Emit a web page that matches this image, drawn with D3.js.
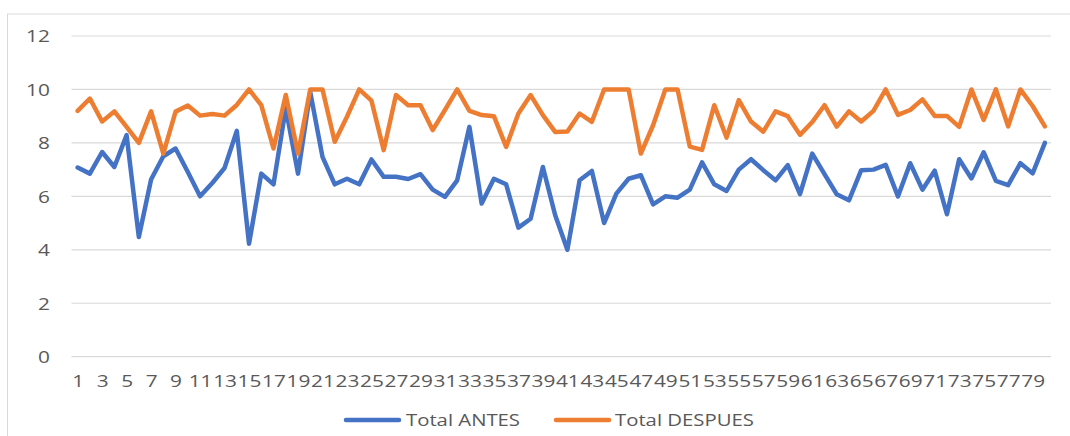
<!DOCTYPE html>
<html>
<head>
<meta charset="utf-8">
<script src="https://cdn.jsdelivr.net/npm/d3@7"></script>
<style>
  body { margin: 0; background: #fff; }
  text { font-family: "Open Sans", sans-serif; fill: #595959; }
</style>
</head>
<body>
<div class="chart"></div>
<script>
// participants 1..80, score before and after
var categories = d3.range(1, 81);

var totalAntes = [
  7.08, 6.85, 7.66, 7.1, 8.29, 4.48, 6.63, 7.5, 7.79, 6.91,
  6.0, 6.5, 7.06, 8.45, 4.23, 6.85, 6.45, 9.3, 6.85, 9.9,
  7.48, 6.45, 6.66, 6.45, 7.38, 6.73, 6.73, 6.65, 6.83, 6.25,
  5.98, 6.6, 8.6, 5.73, 6.66, 6.45, 4.83, 5.16, 7.1, 5.3,
  4.0, 6.6, 6.95, 5.0, 6.1, 6.66, 6.79, 5.7, 6.0, 5.95,
  6.25, 7.27, 6.45, 6.2, 7.0, 7.39, 6.98, 6.6, 7.17, 6.08,
  7.6, 6.83, 6.08, 5.85, 6.98, 7.0, 7.18, 6.0, 7.24, 6.25,
  6.96, 5.33, 7.39, 6.67, 7.65, 6.58, 6.42, 7.24, 6.86, 8.0
];

var totalDespues = [
  9.2, 9.66, 8.8, 9.18, 8.6, 8.0, 9.18, 7.6, 9.17, 9.4,
  9.02, 9.08, 9.02, 9.42, 10, 9.41, 7.79, 9.79, 7.6, 10,
  10, 8.04, 8.98, 10, 9.58, 7.73, 9.79, 9.41, 9.41, 8.48,
  9.23, 10, 9.2, 9.04, 9.0, 7.85, 9.1, 9.79, 9.04, 8.41,
  8.43, 9.1, 8.79, 10, 10, 10, 7.6, 8.66, 10, 10,
  7.86, 7.74, 9.41, 8.2, 9.6, 8.8, 8.42, 9.18, 9.0, 8.3,
  8.78, 9.41, 8.61, 9.18, 8.8, 9.2, 10, 9.05, 9.23, 9.63,
  9.01, 9.01, 8.6, 10, 8.86, 10, 8.62, 10, 9.38, 8.62
];

var yTicks = [0, 2, 4, 6, 8, 10, 12];
var xTickLabels = categories.filter(function(d) { return d % 2 === 1; });

var series = [
  {name: "Total ANTES", values: totalAntes, color: "#4472C4"},
  {name: "Total DESPUES", values: totalDespues, color: "#ED7D31"}
];

var W = 1070, H = 436;
var plot = {left: 71.5, right: 1051, top: 36, bottom: 356.7};
var stretch = 1.27; // text in the picture is drawn wide

var svg = d3.select(".chart")
            .append("svg")
            .attr("width", W)
            .attr("height", H);

// chart area border
svg.append("rect")
   .attr("x", 7.5)
   .attr("y", 14)
   .attr("width", W + 10)
   .attr("height", H)
   .attr("fill", "none")
   .attr("stroke", "#d9d9d9")
   .attr("stroke-width", 1);

var x = d3.scalePoint()
          .domain(categories)
          .range([plot.left, plot.right])
          .padding(0.5);

var y = d3.scaleLinear()
          .domain([0, 12])
          .range([plot.bottom, plot.top]);

// gridlines
svg.append("g")
   .selectAll("line")
   .data(yTicks)
   .enter()
   .append("line")
   .attr("x1", plot.left)
   .attr("x2", plot.right)
   .attr("y1", function(d) { return y(d); })
   .attr("y2", function(d) { return y(d); })
   .attr("stroke", "#d9d9d9")
   .attr("stroke-width", 1.2);

// y axis
var yAxis = svg.append("g")
   .attr("transform", "translate(" + plot.left + ",0)")
   .call(d3.axisLeft(y).tickValues(yTicks).tickSize(0));
yAxis.select(".domain").remove();
yAxis.selectAll("text")
     .attr("x", -17)
     .attr("dy", "0.36em")
     .attr("transform", "scale(" + stretch + ",1)")
     .style("font-size", "16.4px")
     .style("font-family", "Open Sans, sans-serif")
     .style("fill", "#595959");

// x axis
var xAxis = svg.append("g")
   .attr("transform", "translate(0," + plot.bottom + ")")
   .call(d3.axisBottom(x).tickValues(xTickLabels).tickSize(0));
xAxis.select(".domain").remove();
xAxis.selectAll("text")
     .attr("y", 30)
     .attr("dy", 0)
     .attr("transform", "scale(" + stretch + ",1)")
     .style("font-size", "16.4px")
     .style("font-family", "Open Sans, sans-serif")
     .style("fill", "#595959");

// lines
var line = d3.line()
             .x(function(d, i) { return x(categories[i]); })
             .y(function(d) { return y(d); });

svg.append("g")
   .selectAll("path")
   .data(series)
   .enter()
   .append("path")
   .attr("d", function(d) { return line(d.values); })
   .attr("fill", "none")
   .attr("stroke", function(d) { return d.color; })
   .attr("stroke-width", 4.5)
   .attr("stroke-linejoin", "round")
   .attr("stroke-linecap", "round");

// legend
var legendPos = [{lx: 346, tx: 406}, {lx: 556, tx: 615}];
var legend = svg.append("g")
   .selectAll("g")
   .data(series)
   .enter()
   .append("g");

legend.append("line")
      .attr("x1", function(d, i) { return legendPos[i].lx; })
      .attr("x2", function(d, i) { return legendPos[i].lx + 53; })
      .attr("y1", 420)
      .attr("y2", 420)
      .attr("stroke", function(d) { return d.color; })
      .attr("stroke-width", 4.5)
      .attr("stroke-linecap", "round");

legend.append("text")
      .attr("transform", function(d, i) {
        return "translate(" + legendPos[i].tx + ",425.5) scale(" + stretch + ",1)";
      })
      .style("font-size", "16px")
      .text(function(d) { return d.name; });
</script>
</body>
</html>
